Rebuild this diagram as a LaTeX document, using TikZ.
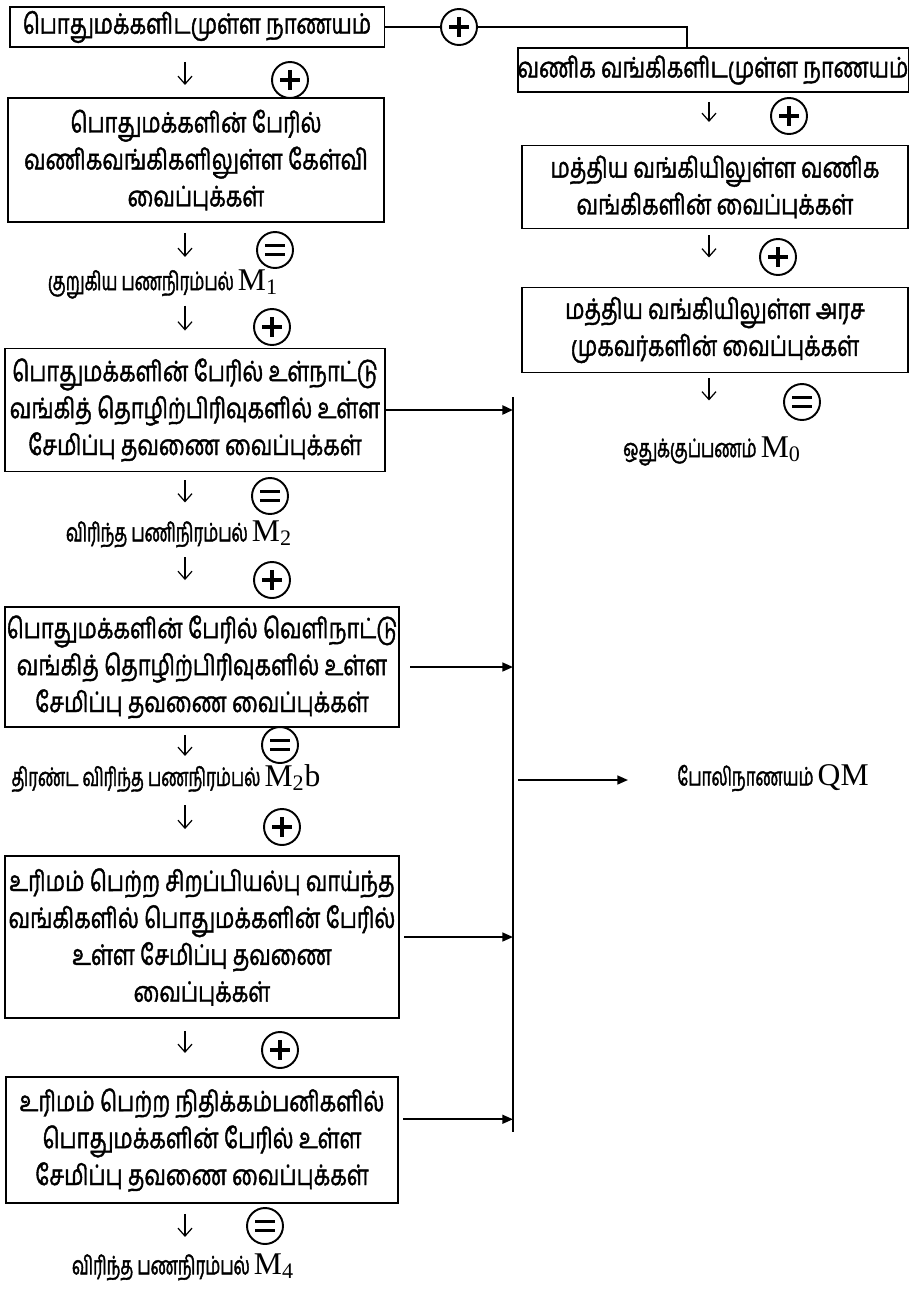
\documentclass[tikz,border=0pt]{standalone}
\usepackage{fontspec}
\setmainfont{Liberation Serif}
\newfontfamily\tamil[Script=Tamil,FakeStretch=0.77,FakeBold=1.4]{Hind Madurai}
\newfontfamily\tamilc[Script=Tamil,FakeStretch=0.66,FakeBold=1.5]{Hind Madurai}
\newcommand{\Mtot}[1]{{\fontsize{18}{18}\selectfont$\mathrm{#1}$}}
\usetikzlibrary{arrows.meta}

\begin{document}
\begin{tikzpicture}[x=0.02cm, y=-0.02cm]
	\tikzstyle{Box} = [draw, line width=1.1pt, align=center, inner sep=0pt, font=\tamil\fontsize{16}{21}\selectfont]
	\tikzstyle{Label} = [inner sep=0pt, font=\tamilc\fontsize{14.5}{18}\selectfont]
	\tikzstyle{Sign} = [circle, draw, line width=1.1pt, minimum size=0.72cm, inner sep=0pt, fill=white]
	\tikzstyle{Plus} = [Sign, path picture={\draw[line width=1.8pt] (path picture bounding box.center) +(-10,0) -- +(10,0) (path picture bounding box.center) +(0,-10) -- +(0,10);}]
	\tikzstyle{Equal} = [Sign, path picture={\draw[line width=1.7pt] (path picture bounding box.center) +(-10,-4.5) -- +(10,-4.5) (path picture bounding box.center) +(-10,4.5) -- +(10,4.5);}]
	\tikzstyle{Down} = [-{Straight Barb[length=4.5pt,width=8pt]}, line width=0.7pt]
	\tikzstyle{Feed} = [-{Triangle[length=6pt,width=5pt]}, line width=1pt]
	\useasboundingbox (0,0) rectangle (915,1292);
	% left column
	\node (1) at (197,27) [Box, minimum width=7.5cm, minimum height=0.8cm] {பொதுமக்களிடமுள்ள நாணயம்};
	\node (2) at (196,160) [Box, minimum width=7.54cm, minimum height=2.48cm] {பொதுமக்களின் பேரில்\\வணிகவங்கிகளிலுள்ள கேள்வி\\வைப்புக்கள்};
	\node (3) at (195,410) [Box, minimum width=7.6cm, minimum height=2.46cm] {பொதுமக்களின் பேரில் உள்நாட்டு\\வங்கித் தொழிற்பிரிவுகளில் உள்ள\\சேமிப்பு தவணை வைப்புக்கள்};
	\node (4) at (202,667) [Box, minimum width=7.9cm, minimum height=2.4cm] {பொதுமக்களின் பேரில் வெளிநாட்டு\\வங்கித் தொழிற்பிரிவுகளில் உள்ள\\சேமிப்பு தவணை வைப்புக்கள்};
	\node (5) at (202,937) [Box, minimum width=7.9cm, minimum height=3.24cm] {உரிமம் பெற்ற சிறப்பியல்பு வாய்ந்த\\வங்கிகளில் பொதுமக்களின் பேரில்\\உள்ள சேமிப்பு தவணை\\வைப்புக்கள்};
	\node (6) at (202,1140) [Box, minimum width=7.86cm, minimum height=2.52cm] {உரிமம் பெற்ற நிதிக்கம்பனிகளில்\\பொதுமக்களின் பேரில் உள்ள\\சேமிப்பு தவணை வைப்புக்கள்};
	% right column
	\node (7) at (713,70) [Box, minimum width=7.82cm, minimum height=0.88cm] {வணிக வங்கிகளிடமுள்ள நாணயம்};
	\node (8) at (715,187) [Box, minimum width=7.72cm, minimum height=1.66cm] {மத்திய வங்கியிலுள்ள வணிக\\வங்கிகளின் வைப்புக்கள்};
	\node (9) at (715,330) [Box, minimum width=7.72cm, minimum height=1.7cm] {மத்திய வங்கியிலுள்ள அரச\\முகவர்களின் வைப்புக்கள்};
	% totals
	\node (M1) at (163,284) [Label] {குறுகிய பணநிரம்பல் \Mtot{M_1}};
	\node (M2) at (179,534) [Label] {விரிந்த பணிநிரம்பல் \Mtot{M_2}};
	\node (M2b) at (166,778) [Label] {திரண்ட விரிந்த பணநிரம்பல் \Mtot{M_2b}};
	\node (M4) at (183,1267) [Label] {விரிந்த பணநிரம்பல் \Mtot{M_4}};
	\node (M0) at (712,451) [Label] {ஒதுக்குப்பணம் \Mtot{M_0}};
	\node (QM) at (773,778) [Label] {போலிநாணயம் \Mtot{QM}};
	% signs
	\node (s0) at (459,27) [Plus] {};
	\node (s1) at (290,80) [Plus] {};
	\node (s2) at (275,250) [Equal] {};
	\node (s3) at (272,327) [Plus] {};
	\node (s4) at (270,496) [Equal] {};
	\node (s5) at (272,580) [Plus] {};
	\node (s6) at (280,745) [Equal] {};
	\node (s7) at (282,827) [Plus] {};
	\node (s8) at (280,1050) [Plus] {};
	\node (s9) at (265,1226) [Equal] {};
	\node (s10) at (789,116) [Plus] {};
	\node (s11) at (778,257) [Plus] {};
	\node (s12) at (802,402) [Equal] {};
	% top link
	\coordinate (k) at (687,0);
	\draw [line width=1.1pt] (1.east) -- (s0);
	\draw [line width=1.1pt] (s0.east) -| (7.north -| k);
	% down arrows
	\coordinate (ax) at (185,0);
	\coordinate (rx) at (709,0);
	\draw [Down] (1.south -| ax) ++(0,14) -- ++(0,23);
	\draw [Down] (2.south -| ax) ++(0,10) -- ++(0,24);
	\draw [Down] (3.north -| ax) ++(0,-42) -- ++(0,25);
	\draw [Down] (3.south -| ax) ++(0,8) -- ++(0,22);
	\draw [Down] (4.north -| ax) ++(0,-49) -- ++(0,23);
	\draw [Down] (4.south -| ax) ++(0,7) -- ++(0,21);
	\draw [Down] (5.north -| ax) ++(0,-50) -- ++(0,24);
	\draw [Down] (5.south -| ax) ++(0,12) -- ++(0,22);
	\draw [Down] (6.south -| ax) ++(0,10) -- ++(0,23);
	\draw [Down] (7.south -| rx) ++(0,9) -- ++(0,20);
	\draw [Down] (8.south -| rx) ++(0,6) -- ++(0,22);
	\draw [Down] (9.south -| rx) ++(0,5) -- ++(0,22);
	% collecting line
	\coordinate (top) at (513,397);
	\coordinate (bot) at (513,1132);
	\coordinate (q) at (628,780);
	\draw [line width=1.5pt] (top) -- (bot);
	\draw [Feed, line width=1.6pt] (3.east) -- (3.east -| top);
	\draw [Feed] (4.east) ++(10,0) -- (4.east -| top);
	\draw [Feed] (5.east) ++(4,0) -- (5.east -| top);
	\draw [Feed] (6.6) ++(4,0) -- (6.6 -| top);
	\draw [Feed] (top |- q) ++(5,0) -- (q);
\end{tikzpicture}
\end{document}
